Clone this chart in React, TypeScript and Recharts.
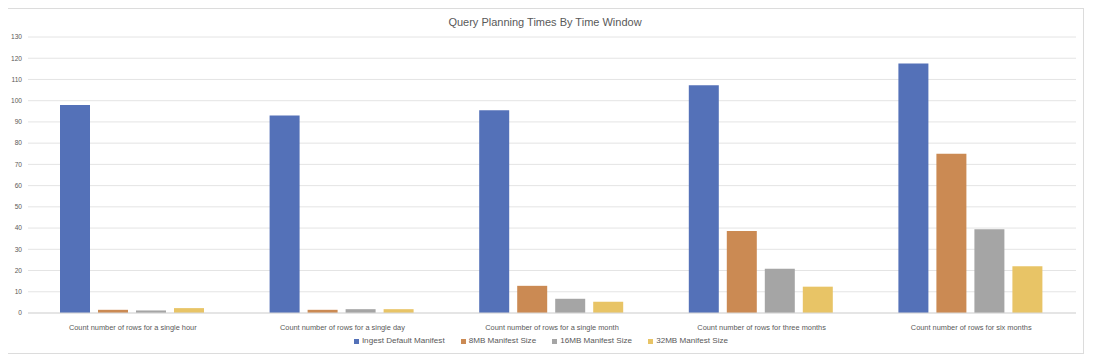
import React from "react";
import { BarChart, Bar, XAxis, YAxis, CartesianGrid, Legend } from "recharts";

const categories = [
  "Count number of rows for a single hour",
  "Count number of rows for a single day",
  "Count number of rows for a single month",
  "Count number of rows for three months",
  "Count number of rows for six months",
];
const ingestDefault = [98, 93, 95.5, 107.3, 117.5];
const mb8 = [1.5, 1.5, 12.8, 38.6, 75];
const mb16 = [1.2, 1.8, 6.7, 20.8, 39.5];
const mb32 = [2.3, 1.8, 5.3, 12.4, 22];
const yTicks = [0, 10, 20, 30, 40, 50, 60, 70, 80, 90, 100, 110, 120, 130];

const seriesNames = ["Ingest Default Manifest", "8MB Manifest Size", "16MB Manifest Size", "32MB Manifest Size"];
const colors = ["#5471b8", "#cb8a53", "#a5a5a5", "#e8c466"];

const data = categories.map((c, i) => ({
  name: c,
  s0: ingestDefault[i],
  s1: mb8[i],
  s2: mb16[i],
  s3: mb32[i],
}));

const FONT = "'Liberation Sans', Arial, sans-serif";

const LegendContent = (props: any) => {
  const payload = [...(props.payload || [])].sort(
    (a: any, b: any) => seriesNames.indexOf(a.value) - seriesNames.indexOf(b.value)
  );
  return (
    <div style={{ display: "flex", justifyContent: "center", fontFamily: FONT, fontSize: 8.1, color: "#595959", lineHeight: "10px", height: 10 }}>
      {payload.map((p: any, i: number) => (
        <div key={i} style={{ display: "flex", alignItems: "center", marginRight: i < payload.length - 1 ? 16 : 0 }}>
          <span style={{ display: "inline-block", width: 5, height: 5, background: p.color, marginRight: 3 }} />
          <span>{p.value}</span>
        </div>
      ))}
    </div>
  );
};

export default function App() {
  return (
    <div style={{ position: "relative", margin: -8, width: 1102, height: 364, background: "#fff" }}>
      <div
        style={{
          position: "absolute",
          left: 6,
          top: 8,
          width: 1078,
          height: 346,
          border: "1px solid #dcdcdc",
          boxSizing: "border-box",
        }}
      >
        <div
          style={{
            position: "absolute",
            top: 7,
            left: 0,
            width: "100%",
            textAlign: "center",
            fontFamily: FONT,
            fontSize: 11,
            color: "#595959",
          }}
        >
          Query Planning Times By Time Window
        </div>
        <div style={{ position: "absolute", left: -1, top: -1 }}>
          <BarChart
            width={1078}
            height={346}
            data={data}
            margin={{ top: 29, right: 8, left: 0, bottom: 8 }}
            barCategoryGap={32}
            barGap={8}
          >
            <CartesianGrid horizontal={true} vertical={false} stroke="#e4e4e4" />
            <XAxis
              dataKey="name"
              height={23}
              tickLine={false}
              axisLine={{ stroke: "#d9d9d9" }}
              stroke="#595959"
              tick={{ fontSize: 7.4, fill: "#595959", fontFamily: FONT }}
              tickMargin={6}
              interval={0}
            />
            <YAxis
              width={22}
              domain={[0, 130]}
              ticks={yTicks}
              tickLine={false}
              axisLine={false}
              tickSize={0}
              tickMargin={6}
              stroke="#595959"
              tick={{ fontSize: 6.6, fill: "#595959", fontFamily: FONT }}
              interval={0}
            />
            <Legend verticalAlign="bottom" align="center" content={<LegendContent />} />
            {["s0", "s1", "s2", "s3"].map((k, i) => (
              <Bar key={k} dataKey={k} name={seriesNames[i]} fill={colors[i]} isAnimationActive={false} />
            ))}
          </BarChart>
        </div>
      </div>
    </div>
  );
}
